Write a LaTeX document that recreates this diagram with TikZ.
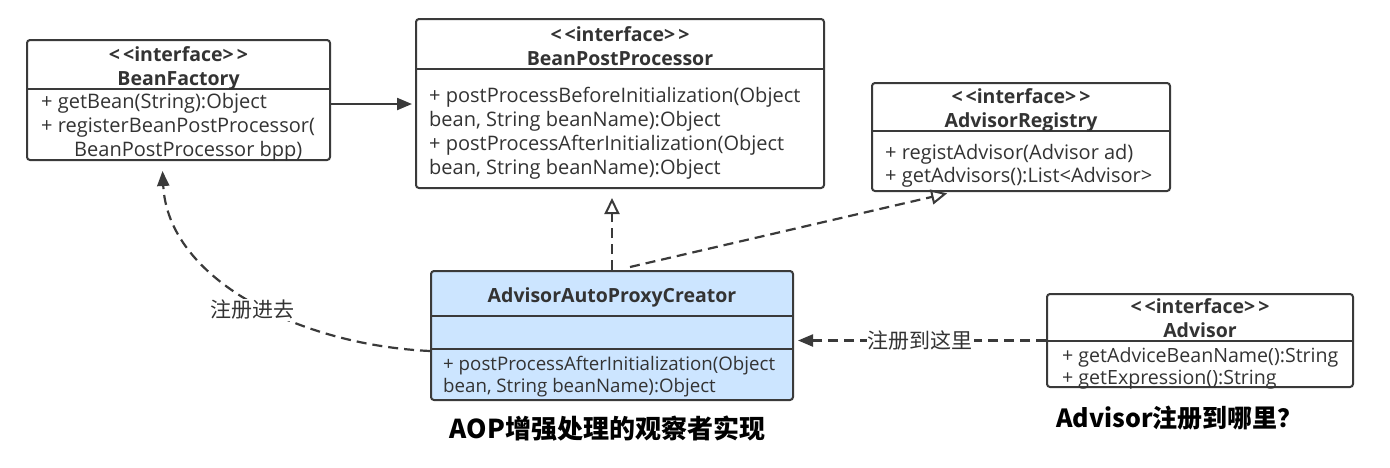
\documentclass[tikz,border=0pt]{standalone}
\usepackage{fontspec}
\setmainfont{Noto Sans CJK SC}
\newfontfamily\latinfont{Open Sans}
\usetikzlibrary{arrows.meta}
\definecolor{ink}{HTML}{333333}
\definecolor{edge}{HTML}{3A3A3A}
\definecolor{blueFill}{HTML}{CCE5FF}
\begin{document}
\begin{tikzpicture}[x=1pt,y=-1pt,
 classbox/.style={draw=edge,line width=2pt,rounded corners=3pt,inner sep=0pt,fill=white},
 divider/.style={draw=edge,line width=2pt},
 hdr/.style={font=\latinfont\bfseries\fontsize{19.5}{22}\selectfont,text=ink,anchor=base,inner sep=0pt},
 mth/.style={font=\latinfont\fontsize{20}{24}\selectfont,text=ink,anchor=base west,inner sep=0pt},
 mths/.style={mth,font=\latinfont\fontsize{18.7}{22}\selectfont},
 conn/.style={draw=edge,line width=2.2pt},
 dconn/.style={conn,dash pattern=on 10pt off 6pt},
 filledtip/.style={-{Triangle[length=15pt,width=12pt]}},
 opentip/.style={-{Triangle[open,length=16pt,width=15pt,line width=2pt]}},
 lbl/.style={font=\fontsize{21}{24}\selectfont,text=ink,fill=white,inner sep=1pt},
 caption/.style={font=\bfseries\fontsize{26}{30}\selectfont,text=black,anchor=base,inner sep=0pt}]

\useasboundingbox[fill=white] (0,0) rectangle (1390,467);

% ---------- BeanFactory
\node[classbox,minimum width=303pt,minimum height=120pt] (bf) at (178.5,100) {};
\draw[divider] (bf.west |- 0,89) -- (bf.east |- 0,89);
\node[hdr] (bfs) at (178.5,61) {<\kern3pt<interface>\kern3pt>};
\node[hdr] (bfn) at (178.5,85) {BeanFactory};
\node[mth] (bfm1) at (41,108) {+ getBean(String):Object};
\node[mth] (bfm2) at (41,132) {+ registerBeanPostProcessor(};
\node[mth] (bfm3) at (74,156) {BeanPostProcessor bpp)};

% ---------- BeanPostProcessor
\node[classbox,minimum width=408pt,minimum height=169pt] (bpp) at (620,103.5) {};
\draw[divider] (bpp.west |- 0,69) -- (bpp.east |- 0,69);
\node[hdr] (bpps) at (620,41) {<\kern3pt<interface>\kern3pt>};
\node[hdr] (bppn) at (620,65) {BeanPostProcessor};
\node[mth] (bppm1) at (429,102) {+ postProcessBeforeInitialization(Object};
\node[mth] (bppm2) at (429,126) {bean, String beanName):Object};
\node[mth] (bppm3) at (429,150) {+ postProcessAfterInitialization(Object};
\node[mth] (bppm4) at (429,174) {bean, String beanName):Object};

% ---------- AdvisorRegistry
\node[classbox,minimum width=298pt,minimum height=108pt] (ar) at (1021,137) {};
\draw[divider] (ar.west |- 0,131) -- (ar.east |- 0,131);
\node[hdr] (ars) at (1021,103) {<\kern3pt<interface>\kern3pt>};
\node[hdr] (arn) at (1021,127) {AdvisorRegistry};
\node[mth] (arm1) at (885,159) {+ registAdvisor(Advisor ad)};
\node[mth] (arm2) at (885,182) {+ getAdvisors():List<Advisor>};

% ---------- AdvisorAutoProxyCreator
\node[classbox,fill=blueFill,minimum width=362pt,minimum height=129pt] (aapc) at (612,335.5) {};
\draw[divider] (aapc.west |- 0,316) -- (aapc.east |- 0,316);
\draw[divider] (aapc.west |- 0,349) -- (aapc.east |- 0,349);
\node[hdr] (aapcn) at (612,302) {AdvisorAutoProxyCreator};
\node[mths] (aapcm1) at (443,370) {+ postProcessAfterInitialization(Object};
\node[mths] (aapcm2) at (443,392) {bean, String beanName):Object};
\node[caption] (cap1) at (607.5,438) {AOP增强处理的观察者实现};

% ---------- Advisor
\node[classbox,minimum width=306pt,minimum height=93pt] (adv) at (1200,340.5) {};
\draw[divider] (adv.west |- 0,341) -- (adv.east |- 0,341);
\node[hdr] (advs) at (1200,313) {<\kern3pt<interface>\kern3pt>};
\node[hdr] (advn) at (1200,337) {Advisor};
\node[mth,font=\latinfont\fontsize{19.6}{22}\selectfont] (advm1) at (1062,362) {+ getAdviceBeanName():String};
\node[mth,font=\latinfont\fontsize{19.6}{22}\selectfont] (advm2) at (1062,384) {+ getExpression():String};
\node[caption,font=\bfseries\fontsize{25}{30}\selectfont] (cap2) at (1179.5,427) {Advisor注册到哪里？};

% ---------- connectors
\draw[conn,filledtip,shorten >=3pt] (bf.east |- 0,104) -- (bpp.west |- 0,104);
\draw[dconn,opentip,shorten >=9pt] (aapc.north) -- (aapc.north |- bpp.south);
\draw[dconn,opentip,shorten >=6pt] ([xshift=18pt,yshift=3pt]aapc.north) -- (ar.south -| 953,0);
\draw[dconn,filledtip,shorten >=4pt] (adv.west) -- (aapc.east |- adv.west)
  node[lbl,midway] (l1) {注册到这里};
\draw[dconn,filledtip,shorten >=10pt] (aapc.west |- 0,351) .. controls (300,345) and (168,280) .. (bf.south -| 162,0);
\node[lbl] (l2) at (252,310) {注册进去};
\end{tikzpicture}
\end{document}
